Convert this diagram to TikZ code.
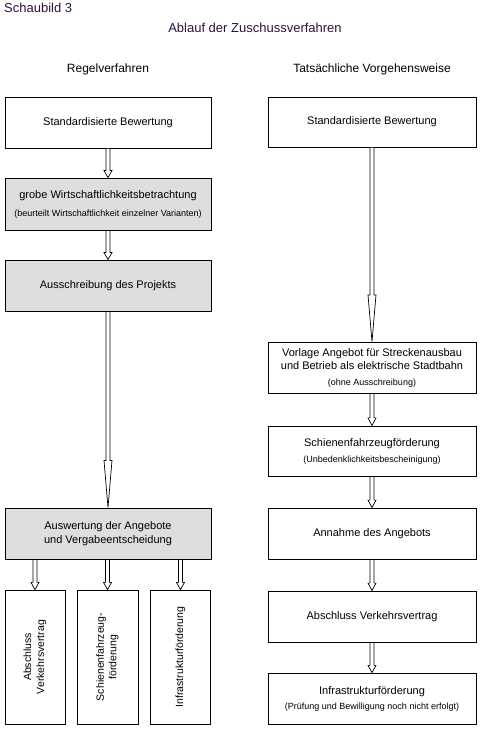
\documentclass[tikz,border=0pt]{standalone}
\usepackage{fontspec}
\setmainfont{Liberation Sans}
\usepackage{graphicx}
\usetikzlibrary{calc}
\definecolor{titlecol}{RGB}{48,16,64}
\definecolor{boxgray}{RGB}{222,222,222}
\newcommand\mainfs{\fontsize{11}{13}\selectfont}
\newcommand\smallfs{\fontsize{9}{11}\selectfont}
\newcommand\blockarrow[2]{%
  \draw[barrow] let \p1=(#1.south), \p2=(#2.north), \n1={0.24*(\y1-\y2)} in
    (\x2-2pt,\y1) -- (\x2-2pt,\y2+\n1) -- (\x2-4pt,\y2+\n1) -- (\x2,\y2)
    -- (\x2+4pt,\y2+\n1) -- (\x2+2pt,\y2+\n1) -- (\x2+2pt,\y1) -- cycle;}
\tikzset{
  box/.style={draw, line width=0.8pt, inner sep=0pt, align=center, font=\mainfs, minimum height=51pt},
  lbox/.style={box, minimum width=206pt},
  rbox/.style={box, minimum width=208pt},
  sbox/.style={box, minimum width=60pt, minimum height=134pt},
  grayfill/.style={fill=boxgray},
  barrow/.style={draw, fill=white, line width=0.7pt, line join=miter},
  heading/.style={font=\fontsize{12}{14}\selectfont, inner sep=0pt},
}
\begin{document}
\begin{tikzpicture}[x=1pt, y=-1pt]
\useasboundingbox (0,0) rectangle (480,730);
\node[anchor=west, inner sep=0pt, text=titlecol, font=\fontsize{13}{15}\selectfont] (schau) at (4,8) {Schaubild 3};
\node[inner sep=0pt, text=titlecol, font=\fontsize{13}{15}\selectfont] (title) at (255,28) {Ablauf der Zuschussverfahren};
\node[heading] (hl) at (108,69) {Regelverfahren};
\node[heading] (hr) at (372,69) {Tatsächliche Vorgehensweise};

% left column
\node[lbox] (l1) at (108,122.5) {Standardisierte Bewertung};
\node[lbox, grayfill, minimum height=52pt] (l2) at (108,204) {grobe Wirtschaftlichkeitsbetrachtung\\[5pt]{\smallfs (beurteilt Wirtschaftlichkeit einzelner Varianten)}};
\node[lbox, grayfill] (l3) at (108,285.5) {Ausschreibung des Projekts};
\node[lbox, grayfill] (l4) at (108,533.5) {Auswertung der Angebote\\[1pt]und Vergabeentscheidung};
\node[sbox] (la) at (35,657) {\rotatebox{90}{\fontsize{10.5}{13}\selectfont\begin{tabular}{@{}c@{}}Abschluss\\Verkehrsvertrag\end{tabular}}};
\node[sbox, minimum width=61pt] (lb) at (107.5,657) {\rotatebox{90}{\fontsize{10.5}{12.5}\selectfont\begin{tabular}{@{}c@{}}Schienenfahrzeug-\\förderung\end{tabular}}};
\node[sbox] (lc) at (180.5,657) {\rotatebox{90}{\fontsize{10.5}{13}\selectfont Infrastrukturförderung}};

% right column
\node[rbox, minimum height=50pt] (r1) at (372,122) {Standardisierte Bewertung};
\node[rbox] (r2) at (372,367.5) {Vorlage Angebot für Streckenausbau\\und Betrieb als elektrische Stadtbahn\\[3pt]{\smallfs (ohne Ausschreibung)}};
\node[rbox, minimum height=50pt] (r3) at (372,451) {Schienenfahrzeugförderung\\[3pt]{\smallfs (Unbedenklichkeitsbescheinigung)}};
\node[rbox] (r4) at (372,533.5) {Annahme des Angebots};
\node[rbox] (r5) at (372,616.5) {Abschluss Verkehrsvertrag};
\node[rbox] (r6) at (372,698.5) {Infrastrukturförderung\\[2pt]{\smallfs (Prüfung und Bewilligung noch nicht erfolgt)}};

% arrows
\blockarrow{l1}{l2}
\blockarrow{l2}{l3}
\blockarrow{l3}{l4}
\blockarrow{l4}{la}
\blockarrow{l4}{lb}
\blockarrow{l4}{lc}
\blockarrow{r1}{r2}
\blockarrow{r2}{r3}
\blockarrow{r3}{r4}
\blockarrow{r4}{r5}
\blockarrow{r5}{r6}
\end{tikzpicture}
\end{document}
